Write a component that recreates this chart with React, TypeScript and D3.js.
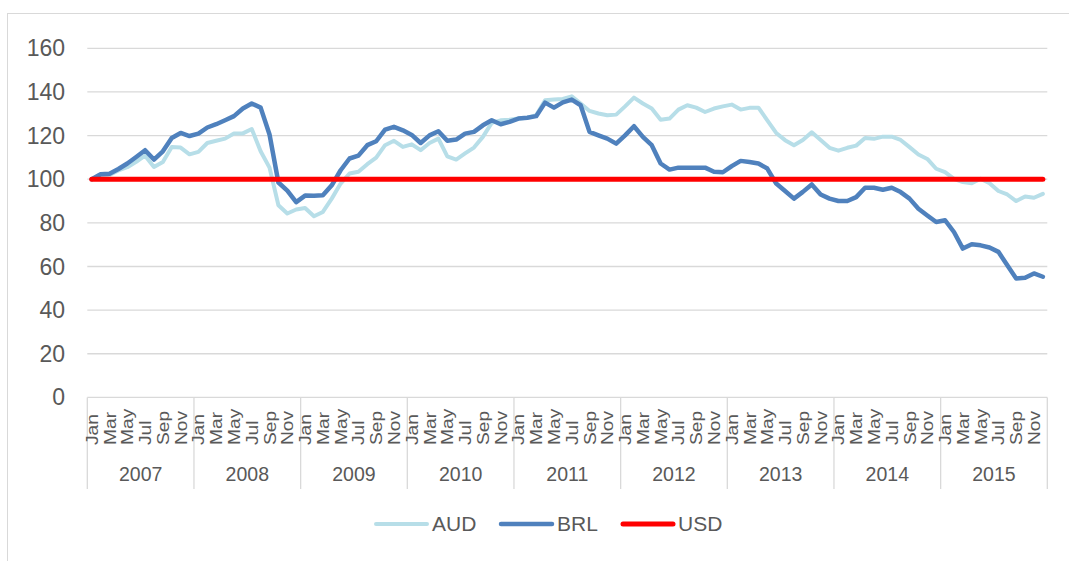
import React from "react";
import * as d3 from "d3";

const YEARS = ["2007", "2008", "2009", "2010", "2011", "2012", "2013", "2014", "2015"];
const MONTHS = ["Jan", "Feb", "Mar", "Apr", "May", "Jun", "Jul", "Aug", "Sep", "Oct", "Nov", "Dec"];
const Y_TICKS = [0, 20, 40, 60, 80, 100, 120, 140, 160];
const SERIES_NAMES = ["AUD", "BRL", "USD"];

const AUD = [
  100, 101.5, 102, 104, 105.5, 108, 110.8, 105.6, 107.9, 114.8, 114.5, 111.4,
  112.5, 116.6, 117.6, 118.6, 120.9, 121, 123, 112.8, 105.3, 88.1, 84.3, 86.1,
  86.8, 83, 85, 91.1, 98, 102.6, 103.4, 106.9, 109.9, 115.6, 117.6, 114.8,
  116, 113.3, 116.6, 118.6, 110.5, 109, 111.8, 114.5, 119.4, 125.8, 127, 127.3,
  127.8, 128.2, 129.3, 136.2, 136.5, 136.8, 138, 134.7, 131.3, 130.1, 129.3, 129.6,
  133.4, 137.4, 134.7, 132.4, 127.3, 127.8, 131.9, 133.9, 132.8, 130.8, 132.4, 133.4,
  134.2, 131.9, 132.7, 132.8, 127, 121.2, 117.9, 115.6, 118, 121.5, 118, 114.4,
  113.1, 114.4, 115.4, 118.9, 118.5, 119.5, 119.5, 118, 114.7, 111.3, 109.3, 104.8,
  103.2, 100.2, 98.7, 98.2, 100.2, 98.2, 94.6, 93, 90, 92.1, 91.5, 93.3,
];

const BRL = [
  100, 102.3, 102.5, 104.7, 107.2, 110.2, 113.3, 109, 112.8, 118.9, 121.2, 119.8,
  120.9, 123.7, 125.2, 127, 128.9, 132.4, 134.7, 132.8, 120.5, 98.5, 94.8, 89.5,
  92.5, 92.4, 92.6, 97.2, 104.1, 109.5, 110.8, 115.6, 117.4, 122.7, 124, 122.4,
  120.3, 116.6, 120.1, 122, 117.6, 118.2, 120.9, 121.7, 124.7, 127, 125.2, 126.3,
  127.8, 128.2, 128.9, 135.1, 132.8, 135.2, 136.5, 133.9, 121.7, 120.1, 118.6, 116.3,
  120.1, 124.3, 119.4, 115.6, 107.2, 104.4, 105.3, 105.3, 105.3, 105.3, 103.4, 103.2,
  106, 108.4, 107.9, 107.2, 104.9, 98, 94.6, 91.1, 94.2, 97.6, 93, 91.1,
  90, 90, 91.8, 96.1, 96.1, 95.2, 96.1, 94.1, 91.1, 86.5, 83.4, 80.4,
  81.2, 75.8, 68.2, 70.2, 69.7, 68.7, 66.7, 60.6, 54.5, 54.8, 56.8, 55.3,
];

const USD = AUD.map(() => 100);

const COLORS = ["#b7dee8", "#4f81bd", "#ff0000"];
const WIDTHS = [4, 4.5, 5];

const W = 1069;
const H = 561;
const LEFT = 87.3;
const RIGHT = 1047.3;
const TOP = 48.3;
const BOTTOM = 397.4;
const FONT = "'Liberation Sans', Arial, sans-serif";
const TEXT = "#595959";
const GRID = "#d9d9d9";

export default function App() {
  const n = AUD.length;
  const idx = d3.range(n);
  const x = d3.scaleBand<number>().domain(idx).range([LEFT, RIGHT]).paddingInner(0).paddingOuter(0);
  const bw = x.bandwidth();
  const cx = (i: number) => (x(i) as number) + bw / 2;
  const y = d3.scaleLinear().domain([0, 160]).range([BOTTOM, TOP]);
  const line = d3
    .line<number>()
    .x((_, i) => cx(i))
    .y((d) => y(d));

  const series = [AUD, BRL, USD];
  const yearW = 12 * bw;

  const legendItems = [
    { lx: 374, tx: 432 },
    { lx: 499, tx: 557 },
    { lx: 621, tx: 678 },
  ];
  const legendY = 524;

  return (
    <svg
      width={W}
      height={H}
      style={{ position: "absolute", left: 0, top: 0, background: "#fff" }}
      fontFamily={FONT}
    >
      <rect x={7.5} y={13.5} width={W + 20} height={H + 20} fill="#fff" stroke={GRID} strokeWidth={1} />
      {Y_TICKS.map((t) => (
        <g key={t}>
          {t > 0 && (
            <line x1={LEFT} x2={RIGHT} y1={y(t)} y2={y(t)} stroke={GRID} strokeWidth={1.3} />
          )}
          <text x={65} y={y(t)} dy="0.35em" textAnchor="end" fontSize={23} fill={TEXT}>
            {t}
          </text>
        </g>
      ))}
      {/* category axis */}
      <line x1={LEFT} x2={RIGHT} y1={BOTTOM} y2={BOTTOM} stroke={GRID} strokeWidth={1.3} />
      {d3.range(YEARS.length + 1).map((k) => {
        const xx = LEFT + k * yearW;
        return <line key={k} x1={xx} x2={xx} y1={BOTTOM} y2={489} stroke={GRID} strokeWidth={1.3} />;
      })}
      {idx
        .filter((i) => i % 2 === 0)
        .map((i) => (
          <text
            key={i}
            transform={`translate(${cx(i)},445) rotate(-90) scale(1.2,1)`}
            dy={6}
            textAnchor="start"
            fontSize={16}
            fill={TEXT}
          >
            {MONTHS[i % 12]}
          </text>
        ))}
      {YEARS.map((yr, k) => (
        <text key={yr} x={LEFT + (k + 0.5) * yearW} y={481} textAnchor="middle" fontSize={19.5} fill={TEXT}>
          {yr}
        </text>
      ))}
      {series.map((s, si) => (
        <path
          key={SERIES_NAMES[si]}
          d={line(s) || ""}
          fill="none"
          stroke={COLORS[si]}
          strokeWidth={WIDTHS[si]}
          strokeLinejoin="round"
          strokeLinecap="round"
        />
      ))}
      {SERIES_NAMES.map((name, si) => (
        <g key={name}>
          <line
            x1={legendItems[si].lx + 2}
            x2={legendItems[si].tx - 5}
            y1={legendY}
            y2={legendY}
            stroke={COLORS[si]}
            strokeWidth={WIDTHS[si]}
            strokeLinecap="round"
          />
          <text x={legendItems[si].tx} y={legendY} dy="0.35em" fontSize={21} fill={TEXT}>
            {name}
          </text>
        </g>
      ))}
    </svg>
  );
}
